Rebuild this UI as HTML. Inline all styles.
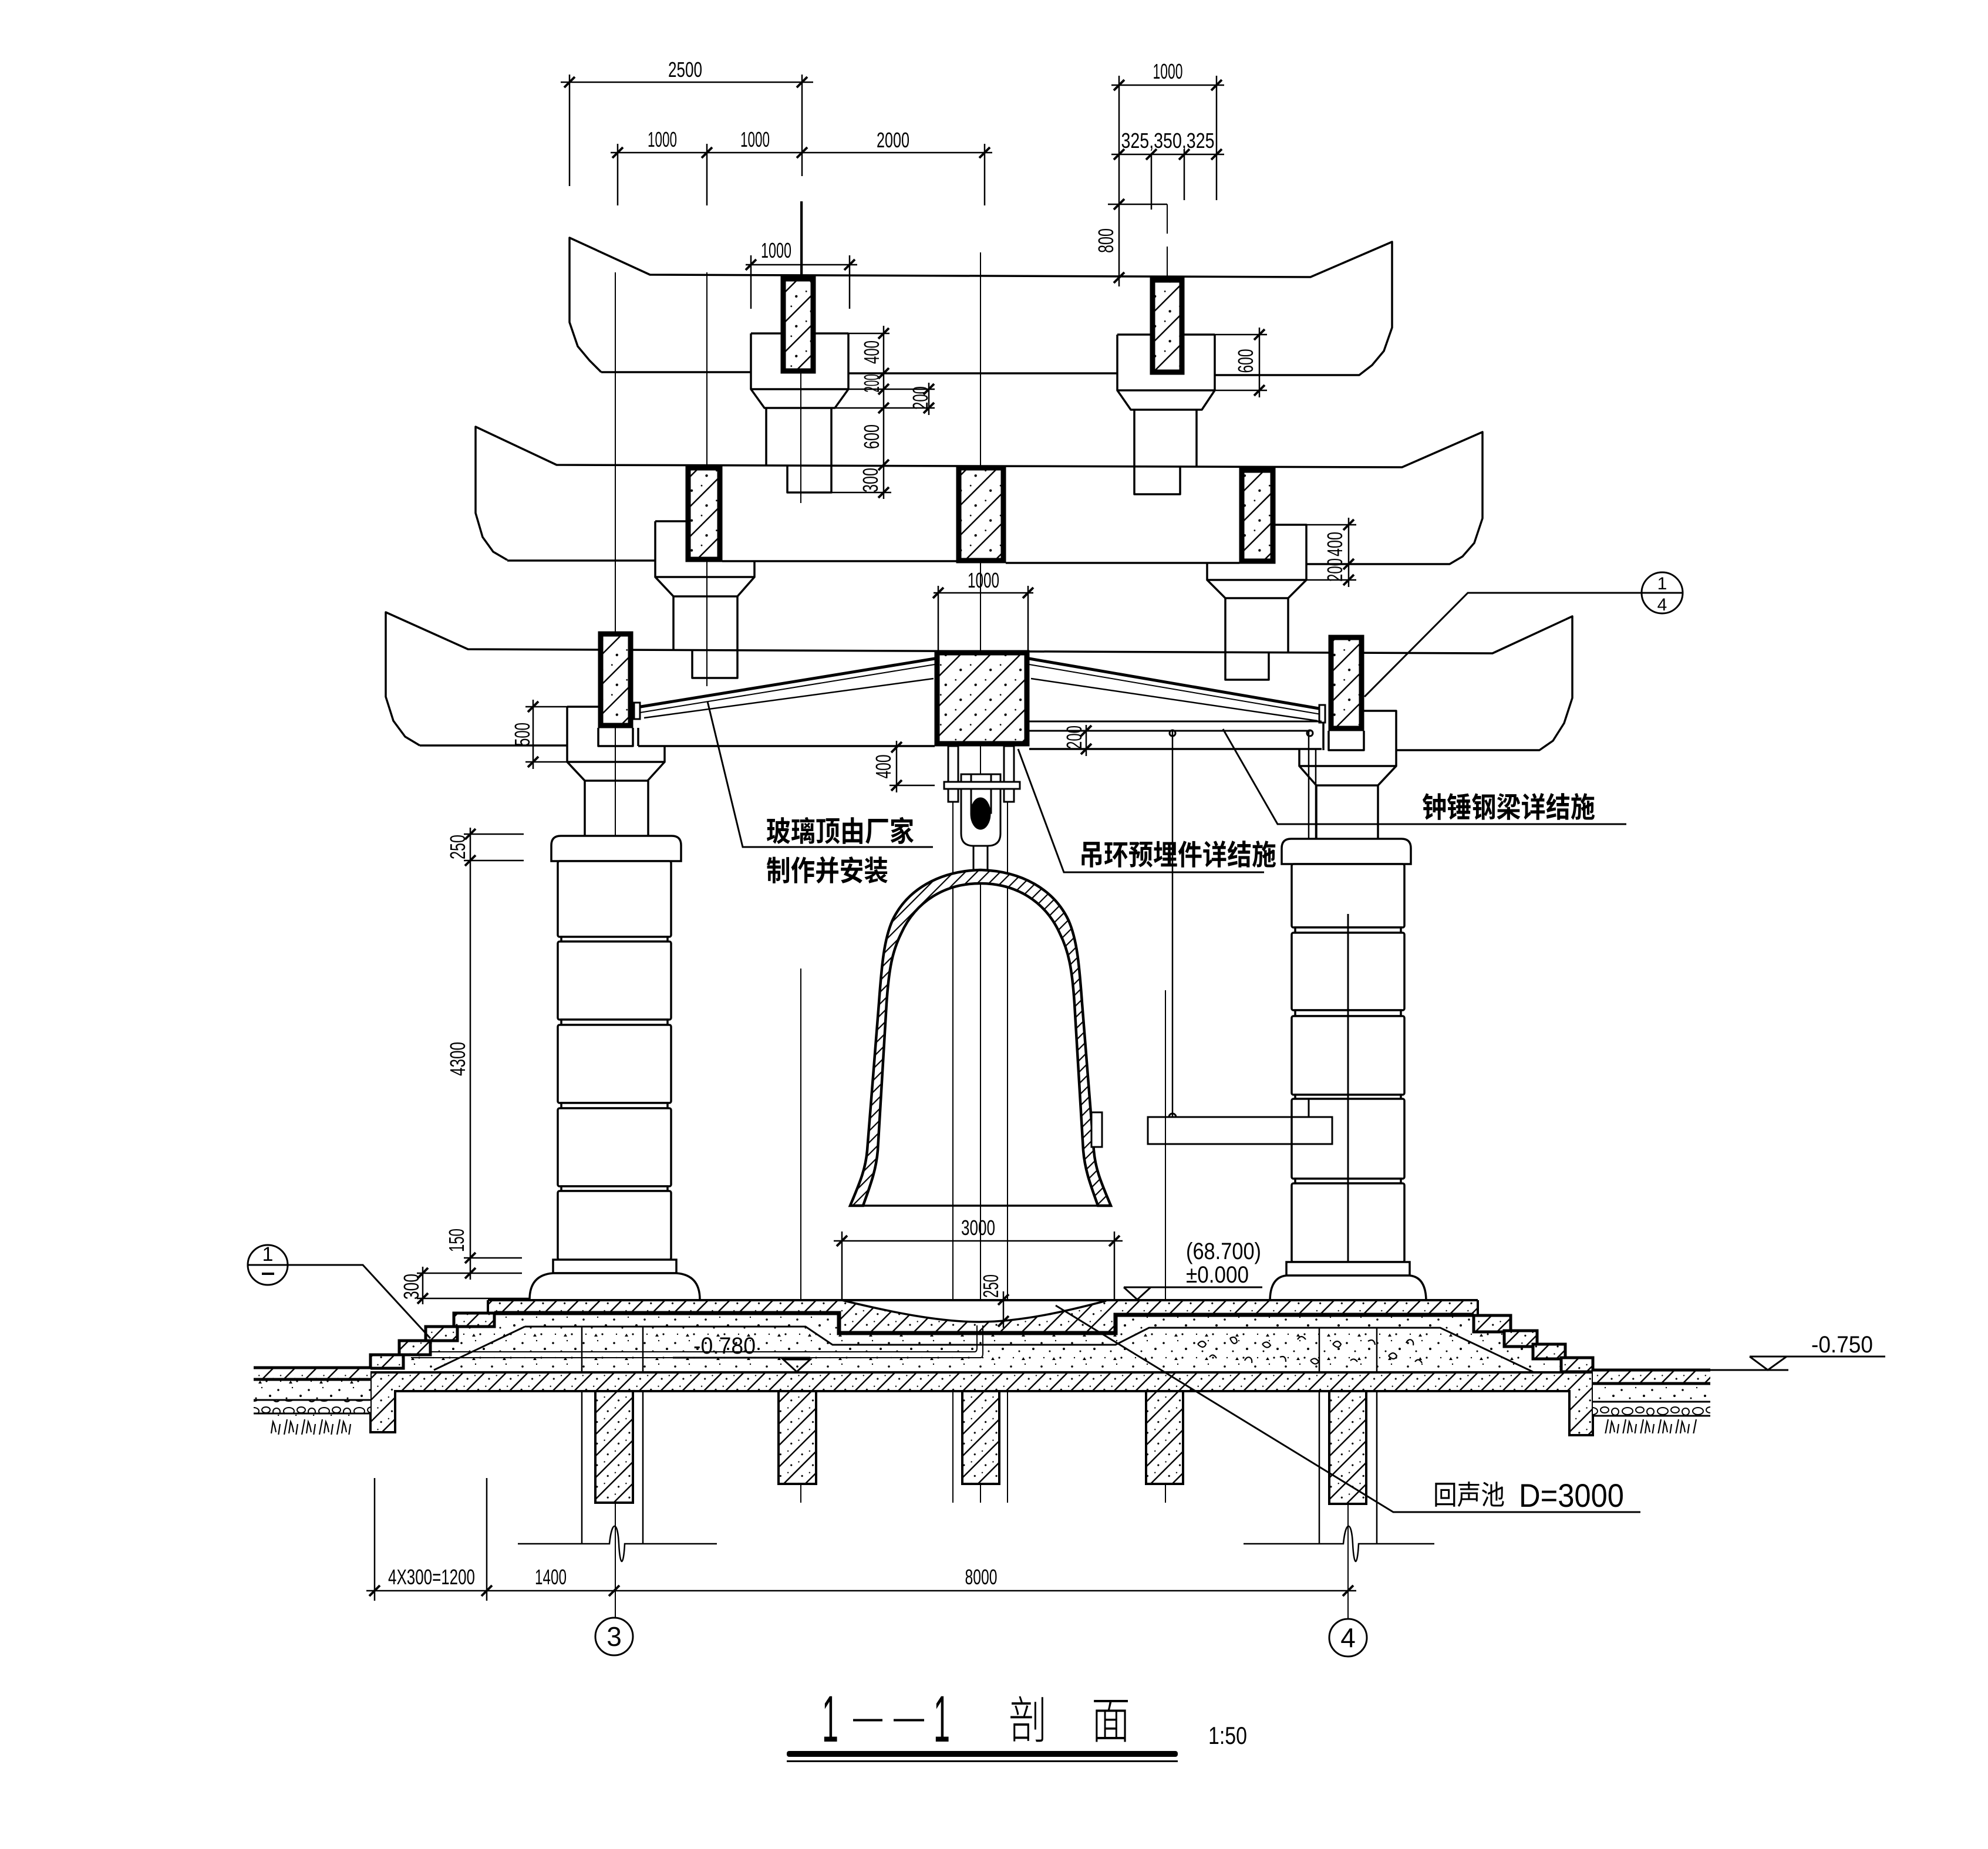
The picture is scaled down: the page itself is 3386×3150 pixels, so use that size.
<!DOCTYPE html>
<html><head><meta charset="utf-8">
<style>
html,body{margin:0;padding:0;background:#fff;}
svg{display:block;}
text{font-family:"Liberation Sans","Noto Sans CJK SC",sans-serif;fill:#000;stroke:none;}
.d{font-size:36px;}
.cn{font-family:"Liberation Sans","Noto Sans CJK SC",sans-serif;font-size:48px;font-weight:bold;}
.lv{font-size:40px;}
</style></head><body>
<svg width="3386" height="3150" viewBox="0 0 3386 3150" xmlns="http://www.w3.org/2000/svg">
<defs>
<pattern id="hs" width="26" height="26" patternUnits="userSpaceOnUse" patternTransform="rotate(45)">
<rect width="26" height="26" fill="#fff"/>
<line x1="1" y1="0" x2="1" y2="26" stroke="#000" stroke-width="3"/>
<circle cx="14" cy="6" r="1.6"/><circle cx="19" cy="19" r="1.2"/>
</pattern>
<pattern id="hb" width="36" height="36" patternUnits="userSpaceOnUse" patternTransform="rotate(45)">
<rect width="36" height="36" fill="#fff"/>
<line x1="1" y1="0" x2="1" y2="36" stroke="#000" stroke-width="3"/>
<circle cx="20" cy="10" r="2.2"/><circle cx="26" cy="28" r="1.4"/>
</pattern>
<pattern id="hf" width="14" height="14" patternUnits="userSpaceOnUse" patternTransform="rotate(45)">
<rect width="14" height="14" fill="#fff"/>
<line x1="1" y1="0" x2="1" y2="14" stroke="#000" stroke-width="2.4"/>
</pattern>
<pattern id="dt" width="52" height="40" patternUnits="userSpaceOnUse">
<rect width="52" height="40" fill="#fff"/>
<circle cx="6" cy="8" r="1.8"/><circle cx="30" cy="4" r="1.2"/><circle cx="20" cy="22" r="1.5"/><circle cx="44" cy="18" r="2"/><circle cx="10" cy="33" r="1.2"/><circle cx="38" cy="33" r="1.6"/><path d="M24 37 l3 -5 l3 5z"/>
</pattern>
<pattern id="pb" width="60" height="23" patternUnits="userSpaceOnUse">
<rect width="60" height="23" fill="#fff"/>
<ellipse cx="12" cy="12" rx="9" ry="6" fill="none" stroke="#000" stroke-width="2"/>
<ellipse cx="33" cy="10" rx="7" ry="5" fill="none" stroke="#000" stroke-width="2"/>
<ellipse cx="51" cy="13" rx="6" ry="6" fill="none" stroke="#000" stroke-width="2"/>
</pattern>
<pattern id="sl" width="30" height="34" patternUnits="userSpaceOnUse">
<rect width="30" height="34" fill="#fff"/>
<path d="M4 30 L9 4 M12 28 L15 8 Q18 14 20 26 M24 32 L27 12" stroke="#000" stroke-width="2.2" fill="none"/>
</pattern>
</defs>
<rect width="3386" height="3150" fill="#fff"/>

<!-- thin axis lines -->
<g stroke="#000" stroke-width="2" fill="none">
<path d="M1048 464V2756 M1204 464V1169 M1364 343V857 M1364 1650V2560 M1670 430V2560 M1623 1366V2560 M1716 1366V2560 M1985 1687V2560 M2296 1557V2758 M1988 348V398 M1988 420V470"/>
</g>

<!-- ===== ROOFS ===== -->
<g stroke="#000" stroke-width="3.5" fill="none" stroke-linejoin="round">
<path d="M1024,634 L1004,614 L984,590 L970,549 V405 L1107,468 L2232,472 L2371,412 V558 L2357,598 L2337,622 L2315,639 H2069"/>
<path d="M1024,634 H1279 M1445,636 H1903"/>
<path d="M1279,568 H1330 M1389,568 H1445 M1279,568 V663 H1445 V568 M1279,663 L1302,695 H1422 L1445,663"/>
<path d="M1305,695 V792 M1416,695 V839 H1341 V792"/>
<path d="M2069,570 H2017 M1959,570 H1903 M2069,570 V665 H1903 V570 M1903,665 L1926,698 H2047 L2069,665"/>
<path d="M2038,698 V796 M1932,698 V842 H2010 V796"/>
<path d="M864,954 L840,940 L822,915 L810,874 V727 L948,792 L2388,796 L2525,736 V883 L2511,925 L2491,948 L2469,961 H2225"/>
<path d="M864,955 H1116 M1230,956 H1629 M1713,959 H2111"/>
<path d="M1116,888 H1168 M1116,888 V983 H1285 V956 M1116,983 L1147,1016 H1256 L1285,983"/>
<path d="M1147,1016 V1107 M1256,1016 V1155 H1179 V1107"/>
<path d="M2172,894 H2225 V988 H2056 V960 M2056,988 L2087,1019 H2194 L2225,988"/>
<path d="M2194,1019 V1111 M2087,1019 V1158 H2161 V1111"/>
<path d="M715,1270 L690,1255 L670,1228 L657,1187 V1043 L797,1106 L2542,1113 L2678,1050 V1189 L2664,1232 L2645,1262 L2622,1278 H2378"/>
<path d="M715,1270 H966 M1087,1271 H1592 M1753,1276 H2251"/>
<path d="M966,1204 H1019 M966,1204 V1298 H1132 V1271 M966,1298 L996,1330 H1103 L1132,1298"/>
<path d="M996,1330 V1424 M1104,1330 V1424"/>
<path d="M1019,1240 V1271 H1078 V1240 M1087,1240 V1271"/>
<path d="M2323,1211 H2378 V1305 H2213 V1277 M2213,1305 L2242,1338 H2347 L2378,1305"/>
<path d="M2242,1338 V1429 M2347,1338 V1429"/>
<path d="M2263,1245 V1278 H2323 V1245 M2254,1213 V1278"/>
</g>

<!-- glass roof -->
<g stroke="#000" fill="none">
<path d="M1085,1205 L1592,1122 M1753,1122 L2252,1208" stroke-width="5"/>
<path d="M1090,1214 L1592,1132 M1753,1132 L2250,1217" stroke-width="2"/>
<path d="M1097,1223 L1590,1156 M1756,1156 L2244,1228" stroke-width="2.5"/>
<rect x="1080" y="1197" width="10" height="28" fill="#fff" stroke-width="3"/>
<rect x="2247" y="1201" width="10" height="30" fill="#fff" stroke-width="3"/>
</g>

<!-- beams -->
<g stroke="#000" stroke-width="9" fill="url(#hb)">
<rect x="1334" y="475" width="51" height="157"/>
<rect x="1963" y="477" width="50" height="157"/>
<rect x="1172" y="797" width="54" height="156"/>
<rect x="1633" y="797" width="76" height="158"/>
<rect x="2115" y="801" width="53" height="155"/>
<rect x="1023" y="1080" width="51" height="156"/>
<rect x="2267" y="1086" width="52" height="155"/>
<rect x="1596" y="1112" width="153" height="155"/>
</g>

<!-- steel clapper beam & pendulum -->
<g stroke="#000" stroke-width="3" fill="none">
<path d="M1753,1229 H2251 M1753,1245 H2232"/>
<path d="M1997,1245 V1903 M2229,1245 V1903 M2241,1276 V1429" stroke-width="2.5"/>
<circle cx="1997" cy="1249" r="5"/><circle cx="2231" cy="1249" r="5"/>
<rect x="1955" y="1903" width="314" height="46"/>
<path d="M1991,1903 A6,6 0 0 1 2003,1903 M2223,1903 A6,6 0 0 1 2235,1903"/>
</g>

<!-- hanger -->
<g stroke="#000" stroke-width="3" fill="#fff">
<rect x="1615" y="1271" width="17" height="95"/>
<rect x="1710" y="1271" width="17" height="95"/>
<path d="M1637,1319 V1420 Q1637,1441 1658,1441 H1682 Q1704,1441 1704,1420 V1319 Z"/>
<rect x="1654" y="1319" width="34" height="66"/>
<rect x="1608" y="1332" width="129" height="12"/>
<rect x="1658" y="1441" width="24" height="43"/>
<ellipse cx="1670" cy="1386" rx="16" ry="26" fill="#000"/>
</g>

<!-- bell -->
<path d="M1448,2054 C1462,2020 1474,1995 1477,1960 L1497,1709 C1502,1640 1506,1600 1520,1568 C1545,1515 1600,1484 1670,1482 C1740,1484 1795,1515 1820,1568 C1834,1600 1838,1640 1843,1709 L1863,1960 C1866,1995 1878,2020 1892,2054 L1870,2054 C1858,2020 1848,1995 1845,1960 L1830,1709 C1826,1650 1820,1620 1805,1590 C1780,1535 1730,1505 1670,1505 C1610,1505 1560,1535 1535,1590 C1520,1620 1514,1650 1510,1709 L1495,1960 C1492,1995 1482,2020 1470,2054 Z" fill="url(#hf)" stroke="#000" stroke-width="4.5"/>
<path d="M1448,2054 H1892" stroke="#000" stroke-width="3.5"/>
<rect x="1859" y="1895" width="18" height="59" fill="#fff" stroke="#000" stroke-width="3"/>

<!-- columns -->
<g stroke="#000" stroke-width="3.5" fill="#fff">
<path d="M939,1467 V1440 Q939,1424 955,1424 H1144 Q1160,1424 1160,1440 V1467 Z"/>
<rect x="950" y="1467" width="193" height="129" rx="3"/>
<rect x="956" y="1596" width="181" height="8"/>
<rect x="950" y="1604" width="193" height="133" rx="3"/>
<rect x="956" y="1737" width="181" height="9"/>
<rect x="950" y="1746" width="193" height="133" rx="3"/>
<rect x="956" y="1879" width="181" height="9"/>
<rect x="950" y="1888" width="193" height="133" rx="3"/>
<rect x="956" y="2021" width="181" height="8"/>
<rect x="950" y="2029" width="193" height="117" rx="3"/>
<rect x="942" y="2146" width="210" height="23"/>
<path d="M902,2214 Q902,2172 942,2169 H1152 Q1192,2172 1192,2214"/>

<path d="M2183,1472 V1445 Q2183,1429 2199,1429 H2387 Q2403,1429 2403,1445 V1472 Z"/>
<rect x="2200" y="1472" width="192" height="108" rx="3"/>
<rect x="2206" y="1580" width="180" height="9"/>
<rect x="2200" y="1589" width="192" height="132" rx="3"/>
<rect x="2206" y="1721" width="180" height="10"/>
<rect x="2200" y="1731" width="192" height="134" rx="3"/>
<rect x="2206" y="1865" width="180" height="7"/>
<rect x="2200" y="1872" width="192" height="136" rx="3"/>
<rect x="2206" y="2008" width="180" height="8"/>
<rect x="2200" y="2016" width="192" height="134" rx="3"/>
<rect x="2191" y="2150" width="210" height="23"/>
<path d="M2163,2217 Q2163,2176 2191,2173 H2401 Q2429,2176 2429,2217"/>
</g>
<g stroke="#000" stroke-width="3" fill="none">
<path d="M2200,1903 V1949 M2229,1872 V1903 M2296,1557 V2150" />
<path d="M1955,1903 H2269 V1949 H1955 Z"/>
</g>

<!-- ===== BASE ===== -->
<path d="M842,2237 V2260 H779 V2284 H733 V2308 H687 V2331 H631 V2338 H2713 V2337 H2659 V2315 H2611 V2294 H2562 V2269 H2510 V2241 Z" fill="url(#dt)" stroke="none"/>
<g stroke="#000" stroke-width="2.2" fill="none">
<path d="M2040,2290 q8,-10 14,0 q-4,10 -14,0 M2060,2312 q6,-8 12,2 M2095,2280 q10,-6 12,6 q-6,8 -12,-6 M2120,2318 c4,-10 14,-6 12,4 M2150,2290 q8,-8 14,2 q-6,8 -14,-2 M2180,2312 q10,-4 10,8 M2210,2282 q6,-10 14,0 M2232,2318 q8,-8 14,2 q-6,8 -14,-2 M2270,2290 q8,-10 14,0 q-4,10 -14,0 M2300,2318 q6,-6 12,2 M2330,2285 q10,-6 12,6 M2365,2310 q8,-10 14,0 q-4,10 -14,0 M2395,2288 c4,-10 14,-6 12,4 M2410,2320 q6,-8 12,2"/>
</g>
<g stroke="none" fill="url(#hs)">
<rect x="831" y="2215" width="598" height="22"/>
<rect x="1900" y="2215" width="617" height="26"/>
<rect x="1427" y="2215" width="473" height="56"/>
</g>
<path d="M1434,2215 C1520,2236 1600,2252 1668,2252 C1740,2252 1820,2233 1884,2216 Z" fill="#fff" stroke="none"/>
<g stroke="#000" fill="none">
<path d="M831,2215 H2517 M831,2215 V2237 M2517,2215 V2241" stroke-width="4"/>
<path d="M1434,2215 C1520,2236 1600,2252 1668,2252 C1740,2252 1820,2233 1884,2216" stroke-width="3.5"/>
<path d="M842,2237 H1429 V2271 H1900 V2240 H2510" stroke-width="7"/>
<path d="M894,2260 H1372 L1418,2291 H1900 L1957,2262 H2453 L2615,2339 M894,2260 L739,2334" stroke-width="3"/>
<path d="M700,2303 H1660 Q1664,2303 1664,2296 V2258 M700,2313 H1670 Q1674,2313 1674,2305 V2258" stroke-width="2"/>
<path d="M991,2260 V2630 M1095,2260 V2630 M2247,2262 V2630 M2345,2262 V2630" stroke-width="2.5"/>
</g>
<g stroke="#000" stroke-width="5" fill="url(#hs)">
<rect x="773" y="2237" width="69" height="23"/>
<rect x="725" y="2260" width="54" height="24"/>
<rect x="680" y="2284" width="53" height="24"/>
<rect x="631" y="2308" width="56" height="23"/>
<rect x="2510" y="2241" width="63" height="28"/>
<rect x="2562" y="2267" width="56" height="27"/>
<rect x="2611" y="2290" width="55" height="25"/>
<rect x="2659" y="2313" width="54" height="24"/>
</g>
<g stroke="#000" stroke-width="4" fill="url(#hs)">
<path d="M631,2338 H2713 V2445 H2673 V2370 H673 V2440 H631 Z"/>
<rect x="1014" y="2370" width="64" height="190"/>
<rect x="1326" y="2370" width="64" height="158"/>
<rect x="1639" y="2370" width="63" height="158"/>
<rect x="1952" y="2370" width="63" height="158"/>
<rect x="2264" y="2370" width="63" height="192"/>
</g>
<g stroke="none">
<rect x="432" y="2330" width="199" height="20" fill="url(#hs)"/>
<rect x="432" y="2350" width="199" height="35" fill="url(#dt)"/>
<rect x="432" y="2385" width="199" height="23" fill="url(#pb)"/>
<rect x="460" y="2410" width="140" height="34" fill="url(#sl)"/>
<rect x="2713" y="2334" width="200" height="23" fill="url(#hs)"/>
<rect x="2713" y="2357" width="200" height="31" fill="url(#dt)"/>
<rect x="2713" y="2388" width="200" height="24" fill="url(#pb)"/>
<rect x="2730" y="2414" width="160" height="28" fill="url(#sl)"/>
</g>
<g stroke="#000" fill="none">
<path d="M432,2330 H631 M432,2350 H631 M2713,2334 H2913 M2713,2357 H2913" stroke-width="5"/>
<path d="M432,2385 H631 M432,2408 H631 M2713,2388 H2913 M2713,2412 H2913 M2913,2334 H3046" stroke-width="3"/>
</g>

<g stroke="#000" stroke-width="2.5" fill="none">
<path d="M882,2630 H1038 C1042,2590 1052,2590 1054,2630 C1056,2670 1062,2670 1064,2630 H1221"/>
<path d="M2118,2630 H2288 C2292,2590 2302,2590 2304,2630 C2306,2670 2312,2670 2314,2630 H2443"/>
</g>

<g stroke="#000" stroke-width="3" fill="none">
<path d="M1914,2193 H2150 M1914,2193 L1937,2214 L1960,2193"/>
<path d="M1146,2313 H1380 M1334,2316 L1357,2337 L1380,2316 Z"/>
<path d="M2980,2311 H3211 M2980,2311 L3011,2334 L3043,2311 M2713,2334 H3046"/>
</g>

<g stroke="#000" stroke-width="3" fill="none">
<path d="M1205,1195 L1265,1443 H1589"/>
<path d="M1734,1276 L1812,1486 H2153"/>
<path d="M2083,1242 L2176,1404 H2770"/>
<path d="M2324,1187 L2500,1010 H2866"/>
<path d="M1798,2224 L2373,2576 H2794"/>
<path d="M422,2155 H618 L733,2280"/>
<circle cx="2831" cy="1010" r="35"/>
<circle cx="456" cy="2155" r="34"/>
<circle cx="1046" cy="2788" r="32"/>
<circle cx="2296" cy="2790" r="32"/>
<path d="M446,2170 H467" stroke-width="4"/>
</g>

<g stroke="#000" stroke-width="2.5" fill="none">
<path d="M955,140 H1385 M970,127 V317 M1366,127 V300 M1366,343 V468"/>
<path d="M1040,260 H1690 M1052,245 V350 M1204,245 V350 M1677,245 V350"/>
<path d="M1893,145 H2085 M1893,263 H2085 M1906,129 V488 M1961,263 V357 M2017,254 V341 M2072,129 V341 M1887,348 H1988"/>
<path d="M1270,451 H1460 M1279,435 V526 M1447,435 V526"/>
<path d="M1505,555 V850 M1445,568 H1515 M1445,663 H1592 M1422,695 H1592 M1413,839 H1518 M1582,652 V707"/>
<path d="M2145,558 V677 M2069,570 H2158 M2069,665 H2158"/>
<path d="M2297,882 V1000 M2225,894 H2310 M2225,988 H2310"/>
<path d="M1590,1010 H1760 M1598,998 V1108 M1751,998 V1108"/>
<path d="M908,1192 V1310 M895,1204 H966 M895,1298 H966"/>
<path d="M1527,1262 V1350 M1515,1338 H1592"/>
<path d="M1850,1235 V1288"/>
<path d="M801,1410 V2180 M790,1421 H892 M790,1466 H892 M790,2143 H889 M710,2169 H889"/>
<path d="M720,2158 V2222 M710,2212 H902"/>
<path d="M1420,2114 H1912 M1434,2098 V2214 M1898,2098 V2214"/>
<path d="M1709,2200 V2262"/>
<path d="M624,2710 H2310 M638,2518 V2727 M829,2518 V2727"/>
</g>
<g stroke="#000" stroke-width="4" fill="none">
<path d="M961,149 L979,131 M1357,149 L1375,131
M1043,269 L1061,251 M1195,269 L1213,251 M1357,269 L1375,251 M1668,269 L1686,251
M1897,154 L1915,136 M2063,154 L2081,136
M1897,272 L1915,254 M1952,272 L1970,254 M2008,272 L2026,254 M2063,272 L2081,254
M1897,357 L1915,339 M1897,482 L1915,464
M1270,460 L1288,442 M1438,460 L1456,442
M1496,577 L1514,559 M1496,645 L1514,627 M1496,672 L1514,654 M1496,704 L1514,686 M1496,801 L1514,783 M1496,848 L1514,830
M1573,672 L1591,654 M1573,704 L1591,686
M2136,579 L2154,561 M2136,674 L2154,656
M2288,903 L2306,885 M2288,970 L2306,952 M2288,997 L2306,979
M1589,1019 L1607,1001 M1742,1019 L1760,1001
M899,1213 L917,1195 M899,1307 L917,1289
M1518,1282 L1536,1264 M1518,1347 L1536,1329
M1841,1254 L1859,1236 M1841,1285 L1859,1267
M792,1430 L810,1412 M792,1475 L810,1457 M792,2152 L810,2134 M792,2178 L810,2160
M711,2178 L729,2160 M711,2221 L729,2203
M1425,2123 L1443,2105 M1889,2123 L1907,2105
M1700,2223 L1718,2205 M1700,2260 L1718,2242
M629,2719 L647,2701 M820,2719 L838,2701 M1037,2719 L1055,2701 M2287,2719 L2305,2701"/>
</g>

<g class="d">
<text x="1167" y="131" text-anchor="middle" textLength="58" lengthAdjust="spacingAndGlyphs">2500</text>
<text x="1128" y="250" text-anchor="middle" textLength="50" lengthAdjust="spacingAndGlyphs">1000</text>
<text x="1286" y="250" text-anchor="middle" textLength="50" lengthAdjust="spacingAndGlyphs">1000</text>
<text x="1521" y="251" text-anchor="middle" textLength="56" lengthAdjust="spacingAndGlyphs">2000</text>
<text x="1989" y="134" text-anchor="middle" textLength="51" lengthAdjust="spacingAndGlyphs">1000</text>
<text x="1989" y="252" text-anchor="middle" textLength="159" lengthAdjust="spacingAndGlyphs">325,350,325</text>
<text x="1322" y="439" text-anchor="middle" textLength="52" lengthAdjust="spacingAndGlyphs">1000</text>
<text x="1675" y="1001" text-anchor="middle" textLength="54" lengthAdjust="spacingAndGlyphs">1000</text>
<text x="1666" y="2104" text-anchor="middle" textLength="58" lengthAdjust="spacingAndGlyphs">3000</text>
<text x="735" y="2699" text-anchor="middle" textLength="148" lengthAdjust="spacingAndGlyphs">4X300=1200</text>
<text x="938" y="2699" text-anchor="middle" textLength="54" lengthAdjust="spacingAndGlyphs">1400</text>
<text x="1671" y="2699" text-anchor="middle" textLength="55" lengthAdjust="spacingAndGlyphs">8000</text>
<text transform="translate(1896,410) rotate(-90)" text-anchor="middle" textLength="42" lengthAdjust="spacingAndGlyphs">800</text>
<text transform="translate(1497,600) rotate(-90)" text-anchor="middle" textLength="40" lengthAdjust="spacingAndGlyphs">400</text>
<text transform="translate(1497,653) rotate(-90)" text-anchor="middle" textLength="31" lengthAdjust="spacingAndGlyphs">200</text>
<text transform="translate(1580,678) rotate(-90)" text-anchor="middle" textLength="40" lengthAdjust="spacingAndGlyphs">200</text>
<text transform="translate(1497,744) rotate(-90)" text-anchor="middle" textLength="42" lengthAdjust="spacingAndGlyphs">600</text>
<text transform="translate(1495,818) rotate(-90)" text-anchor="middle" textLength="42" lengthAdjust="spacingAndGlyphs">300</text>
<text transform="translate(2134,615) rotate(-90)" text-anchor="middle" textLength="41" lengthAdjust="spacingAndGlyphs">600</text>
<text transform="translate(2286,927) rotate(-90)" text-anchor="middle" textLength="42" lengthAdjust="spacingAndGlyphs">400</text>
<text transform="translate(2286,971) rotate(-90)" text-anchor="middle" textLength="40" lengthAdjust="spacingAndGlyphs">200</text>
<text transform="translate(902,1251) rotate(-90)" text-anchor="middle" textLength="40" lengthAdjust="spacingAndGlyphs">500</text>
<text transform="translate(1517,1306) rotate(-90)" text-anchor="middle" textLength="41" lengthAdjust="spacingAndGlyphs">400</text>
<text transform="translate(1842,1256) rotate(-90)" text-anchor="middle" textLength="40" lengthAdjust="spacingAndGlyphs">200</text>
<text transform="translate(792,1443) rotate(-90)" text-anchor="middle" textLength="42" lengthAdjust="spacingAndGlyphs">250</text>
<text transform="translate(792,1804) rotate(-90)" text-anchor="middle" textLength="58" lengthAdjust="spacingAndGlyphs">4300</text>
<text transform="translate(790,2113) rotate(-90)" text-anchor="middle" textLength="40" lengthAdjust="spacingAndGlyphs">150</text>
<text transform="translate(713,2192) rotate(-90)" text-anchor="middle" textLength="44" lengthAdjust="spacingAndGlyphs">300</text>
<text transform="translate(1700,2191) rotate(-90)" text-anchor="middle" textLength="40" lengthAdjust="spacingAndGlyphs">250</text>
</g>

<g class="lv">
<text x="1181" y="2306" textLength="106" lengthAdjust="spacingAndGlyphs">-0.780</text>
<text x="2020" y="2145" textLength="128" lengthAdjust="spacingAndGlyphs">(68.700)</text>
<text x="2020" y="2185" textLength="107" lengthAdjust="spacingAndGlyphs">±0.000</text>
<text x="3085" y="2304" textLength="105" lengthAdjust="spacingAndGlyphs">-0.750</text>
</g>

<text x="1046" y="2804" text-anchor="middle" font-size="46">3</text>
<text x="2296" y="2806" text-anchor="middle" font-size="46">4</text>
<text x="456" y="2148" text-anchor="middle" font-size="34">1</text>
<text x="2831" y="1004" text-anchor="middle" font-size="30">1</text>
<text x="2831" y="1040" text-anchor="middle" font-size="30">4</text>

<text class="cn" x="1305" y="1433" textLength="252" lengthAdjust="spacingAndGlyphs">玻璃顶由厂家</text>
<text class="cn" x="1305" y="1500" textLength="208" lengthAdjust="spacingAndGlyphs">制作并安装</text>
<text class="cn" x="1838" y="1473" textLength="336" lengthAdjust="spacingAndGlyphs">吊环预埋件详结施</text>
<text class="cn" x="2422" y="1392" textLength="295" lengthAdjust="spacingAndGlyphs">钟锤钢梁详结施</text>
<text x="2441" y="2563" font-size="46" textLength="122" lengthAdjust="spacingAndGlyphs">回声池</text>
<text x="2587" y="2567" font-size="56" textLength="179" lengthAdjust="spacingAndGlyphs">D=3000</text>

<!-- title -->
<text transform="translate(1400,2967) scale(0.9,2)" font-size="56">1</text>
<text transform="translate(1590,2967) scale(0.9,2)" font-size="56">1</text>
<g style="font-family:'Noto Sans CJK SC','Liberation Sans',sans-serif;font-weight:300;">
<text x="1453" y="2946" font-size="60" textLength="50" lengthAdjust="spacingAndGlyphs">—</text>
<text x="1522" y="2946" font-size="60" textLength="52" lengthAdjust="spacingAndGlyphs">—</text>
<text x="1718" y="2961" font-size="85" textLength="66" lengthAdjust="spacingAndGlyphs">剖</text>
<text x="1859" y="2961" font-size="85" textLength="66" lengthAdjust="spacingAndGlyphs">面</text>
</g>
<text x="2058" y="2971" font-size="42" textLength="66" lengthAdjust="spacingAndGlyphs">1:50</text>
<rect x="1340" y="2983" width="666" height="10" rx="4" fill="#000"/>
<rect x="1340" y="2999" width="666" height="3" fill="#000"/>
</svg>
</body></html>
